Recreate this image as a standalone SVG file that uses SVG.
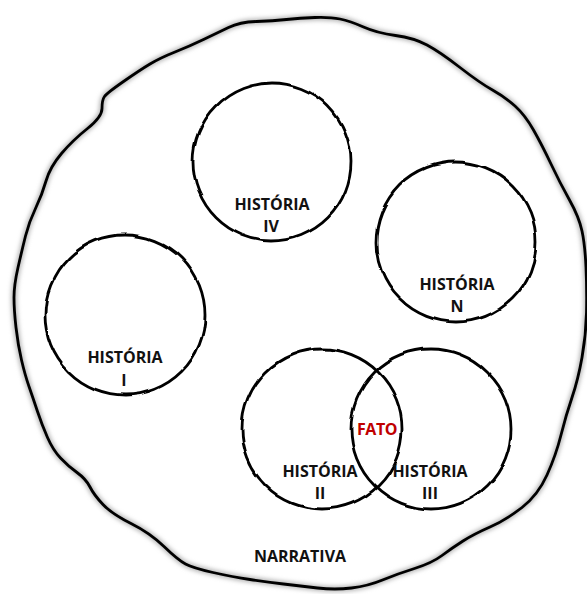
<svg xmlns="http://www.w3.org/2000/svg" width="587" height="594" viewBox="0 0 587 594">
<style>
.ring{fill:none;stroke:#000;stroke-width:2.8}
.glow{fill:none;stroke:#b8b8b8;stroke-width:6}
.lbl{font-family:"Open Sans","Liberation Sans",sans-serif;font-weight:bold;font-size:16px;fill:#111;text-anchor:middle}
.fato{font-family:"Open Sans","Liberation Sans",sans-serif;font-weight:bold;font-size:16px;letter-spacing:-0.5px;fill:#c00000;text-anchor:middle}
</style>
<defs>
<filter id="blur" x="-10%" y="-10%" width="120%" height="120%"><feGaussianBlur stdDeviation="2"/></filter>
<filter id="wob" x="-10%" y="-10%" width="120%" height="120%">
<feTurbulence type="fractalNoise" baseFrequency="0.035" numOctaves="1" seed="5" result="n"/>
<feDisplacementMap in="SourceGraphic" in2="n" scale="5" xChannelSelector="R" yChannelSelector="G"/>
</filter>
</defs>
<rect width="587" height="594" fill="#fff"/>
<g id="narrativa">
<path id="outer" class="glow" filter="url(#blur)" d="M228.5,27.5 Q240,22 256.5,21.5 Q273,21 286.5,19.5 Q300,18 315,17.5 Q330,17 340,19 Q350,21 363.5,27 Q377,33 395.5,35.5 Q414,38 427,45 Q440,52 460,67.5 Q480,83 492.5,90 Q505,97 515,106 Q525,115 533.5,130 Q542,145 551,164 Q560,183 569.5,200 Q579,217 582,231 Q585,245 586,267.5 Q587,290 586.5,312.5 Q586,335 582,357.5 Q578,380 572,397.5 Q566,415 561,435 Q556,455 547,475 Q538,495 522,507.5 Q506,520 490,527 Q474,534 463,541 Q452,548 442,555.5 Q432,563 414.5,568.5 Q397,574 382.5,580 Q368,586 351.5,588 Q335,590 317.5,588 Q300,586 283.5,584 Q267,582 250,579.5 Q233,577 213,572.5 Q193,568 185.5,564 Q178,560 164,546.5 Q150,533 131,523.5 Q112,514 103,504.5 Q94,495 90,487 Q86,479 77,472.5 Q68,466 60.5,458 Q53,450 47.5,437.5 Q42,425 37.5,411.5 Q33,398 29,386.5 Q25,375 21.5,360 Q18,345 16,327.5 Q14,310 14,297.5 Q14,285 18,267.5 Q22,250 25.5,236 Q29,222 35.5,208.5 Q42,195 46,181 Q50,167 61.5,153.5 Q73,140 87.5,128.5 Q102,117 102,108.5 Q102,100 104.5,96.5 Q107,93 123.5,81.5 Q140,70 150,64 Q160,58 175,52 Q190,46 203.5,39.5 Q217,33 228.5,27.5 Z"/>
<path class="ring" d="M228.5,27.5 Q240,22 256.5,21.5 Q273,21 286.5,19.5 Q300,18 315,17.5 Q330,17 340,19 Q350,21 363.5,27 Q377,33 395.5,35.5 Q414,38 427,45 Q440,52 460,67.5 Q480,83 492.5,90 Q505,97 515,106 Q525,115 533.5,130 Q542,145 551,164 Q560,183 569.5,200 Q579,217 582,231 Q585,245 586,267.5 Q587,290 586.5,312.5 Q586,335 582,357.5 Q578,380 572,397.5 Q566,415 561,435 Q556,455 547,475 Q538,495 522,507.5 Q506,520 490,527 Q474,534 463,541 Q452,548 442,555.5 Q432,563 414.5,568.5 Q397,574 382.5,580 Q368,586 351.5,588 Q335,590 317.5,588 Q300,586 283.5,584 Q267,582 250,579.5 Q233,577 213,572.5 Q193,568 185.5,564 Q178,560 164,546.5 Q150,533 131,523.5 Q112,514 103,504.5 Q94,495 90,487 Q86,479 77,472.5 Q68,466 60.5,458 Q53,450 47.5,437.5 Q42,425 37.5,411.5 Q33,398 29,386.5 Q25,375 21.5,360 Q18,345 16,327.5 Q14,310 14,297.5 Q14,285 18,267.5 Q22,250 25.5,236 Q29,222 35.5,208.5 Q42,195 46,181 Q50,167 61.5,153.5 Q73,140 87.5,128.5 Q102,117 102,108.5 Q102,100 104.5,96.5 Q107,93 123.5,81.5 Q140,70 150,64 Q160,58 175,52 Q190,46 203.5,39.5 Q217,33 228.5,27.5 Z"/>
<text class="lbl" x="300" y="562">NARRATIVA</text>
</g>
<g id="historia-iv">
<circle class="ring" filter="url(#wob)" cx="272" cy="162" r="79"/>
<text class="lbl" x="272" y="210">HISTÓRIA</text>
<text class="lbl" x="271" y="232">IV</text>
</g>
<g id="historia-n">
<circle class="ring" filter="url(#wob)" cx="456" cy="242" r="80"/>
<text class="lbl" x="457" y="290">HISTÓRIA</text>
<text class="lbl" x="457" y="312">N</text>
</g>
<g id="historia-i">
<circle class="ring" filter="url(#wob)" cx="125" cy="315" r="80"/>
<text class="lbl" x="125" y="363">HISTÓRIA</text>
<text class="lbl" x="124" y="386">I</text>
</g>
<g id="historia-ii">
<circle class="ring" filter="url(#wob)" cx="322" cy="429" r="80"/>
<text class="lbl" x="320" y="477">HISTÓRIA</text>
<text class="lbl" x="320" y="499">II</text>
</g>
<g id="historia-iii">
<circle class="ring" filter="url(#wob)" cx="431" cy="429" r="80"/>
<text class="lbl" x="430" y="477">HISTÓRIA</text>
<text class="lbl" x="430" y="499">III</text>
</g>
<g id="fato">
<text class="fato" x="377" y="435">FATO</text>
</g>
</svg>
